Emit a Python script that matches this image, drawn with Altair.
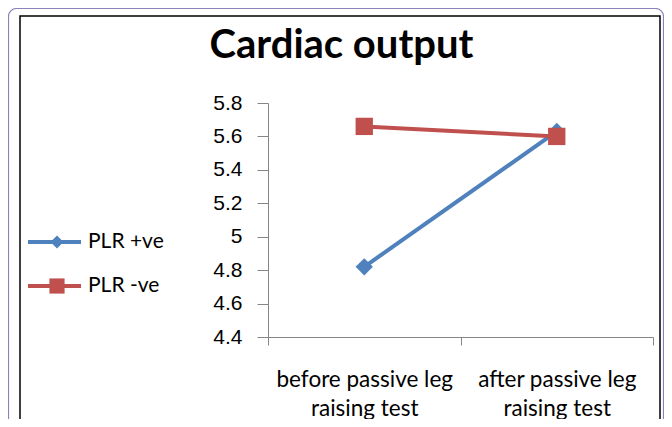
import altair as alt
import pandas as pd

# ---- data ----
categories = ["before passive leg\nraising test", "after passive leg\nraising test"]
series_names = ["PLR +ve", "PLR -ve"]
plr_pos = [4.82, 5.63]
plr_neg = [5.66, 5.60]
y_ticks = [4.4, 4.6, 4.8, 5.0, 5.2, 5.4, 5.6, 5.8]
title_text = "Cardiac output"

colors = ["#4F81BD", "#C0504D"]
shapes = ["diamond", "square"]

rows = []
for s, vals in zip(series_names, [plr_pos, plr_neg]):
    for c, v in zip(categories, vals):
        rows.append({"series": s, "category": c, "value": v})
df = pd.DataFrame(rows)
df_series = pd.DataFrame({"series": series_names})
df_title = pd.DataFrame({"t": [title_text]})
df_frame = pd.DataFrame({"k": [0]})

x_enc = alt.X(
    "category:N",
    sort=categories,
    scale=alt.Scale(type="band", paddingInner=0, paddingOuter=0),
    axis=alt.Axis(
        title=None,
        labelAngle=0,
        tickBand="extent",
        tickSize=8,
        labelPadding=23,
        labelFont="Lato",
        labelFontSize=22.5,
        labelLineHeight=29,
        labelLimit=1000,
        labelOverlap=False,
        labelColor="#000000",
        labelExpr="split(datum.label, '\\n')",
        domainColor="#868686",
        tickColor="#868686",
    ),
)
y_enc = alt.Y(
    "value:Q",
    scale=alt.Scale(domain=[4.4, 5.8], nice=False, zero=False),
    axis=alt.Axis(
        title=None,
        values=y_ticks,
        labelExpr="format(datum.value, '.1~f')",
        grid=False,
        tickSize=11,
        labelPadding=15,
        labelFont="Liberation Sans",
        labelFontSize=21,
        labelColor="#000000",
        domainColor="#868686",
        tickColor="#868686",
    ),
)
color_enc = alt.Color("series:N", scale=alt.Scale(domain=series_names, range=colors), legend=None)
shape_enc = alt.Shape("series:N", scale=alt.Scale(domain=series_names, range=shapes), legend=None)

lines = alt.Chart(df).mark_line(strokeWidth=4).encode(
    x=x_enc, y=y_enc, color=color_enc, order=alt.Order("series:N")
)

pts_pos = alt.Chart(df).transform_filter(alt.datum.series == series_names[0]).mark_point(
    filled=True, opacity=1, size=300
).encode(x=x_enc, y=y_enc, color=color_enc, shape=shape_enc)

pts_neg = alt.Chart(df).transform_filter(alt.datum.series == series_names[1]).mark_point(
    filled=True, opacity=1, size=300
).encode(x=x_enc, y=y_enc, color=color_enc, shape=shape_enc)

lines_pos = lines.transform_filter(alt.datum.series == series_names[0])
lines_neg = lines.transform_filter(alt.datum.series == series_names[1])

# frames
outer = alt.Chart(df_frame).mark_rect(
    fill=None, stroke="#8A83BA", strokeWidth=1.2, cornerRadius=8
).encode(x=alt.value(-259.5), x2=alt.value(395.5), y=alt.value(-94.5), y2=alt.value(340))
inner = alt.Chart(df_frame).mark_rect(
    fill=None, stroke="#000000", strokeWidth=1.5
).encode(x=alt.value(-248), x2=alt.value(392), y=alt.value(-87), y2=alt.value(340))

title = alt.Chart(df_title).mark_text(
    font="Lato", fontSize=40, fontWeight="bold", align="center", baseline="alphabetic", color="#000000"
).encode(text="t:N", x=alt.value(73.5), y=alt.value(-45))

# manual legend
legend_layers = []
leg_y = [139, 183]
leg_sizes = [170, 230]
for i, s in enumerate(series_names):
    base = alt.Chart(df_series).transform_filter(alt.datum.series == s)
    legend_layers.append(
        base.mark_rule(strokeWidth=4, color=colors[i]).encode(
            x=alt.value(-240), x2=alt.value(-187), y=alt.value(leg_y[i])
        )
    )
    legend_layers.append(
        base.mark_point(filled=True, opacity=1, shape=shapes[i], size=leg_sizes[i], color=colors[i]).encode(
            x=alt.value(-211), y=alt.value(leg_y[i])
        )
    )
    legend_layers.append(
        base.mark_text(font="Lato", fontSize=21, align="left", baseline="middle", color="#000000").encode(
            text="series:N", x=alt.value(-180), y=alt.value(leg_y[i])
        )
    )

chart = alt.layer(
    outer, inner, title, lines_pos, pts_pos, lines_neg, pts_neg, *legend_layers
).properties(
    width=385,
    height=234,
    padding={"left": 260, "top": 95, "right": 11, "bottom": 82},
    autosize=alt.AutoSizeParams(type="none"),
).configure_view(stroke=None)

chart.save("out.html", embed_options={"renderer": "svg", "actions": False})
